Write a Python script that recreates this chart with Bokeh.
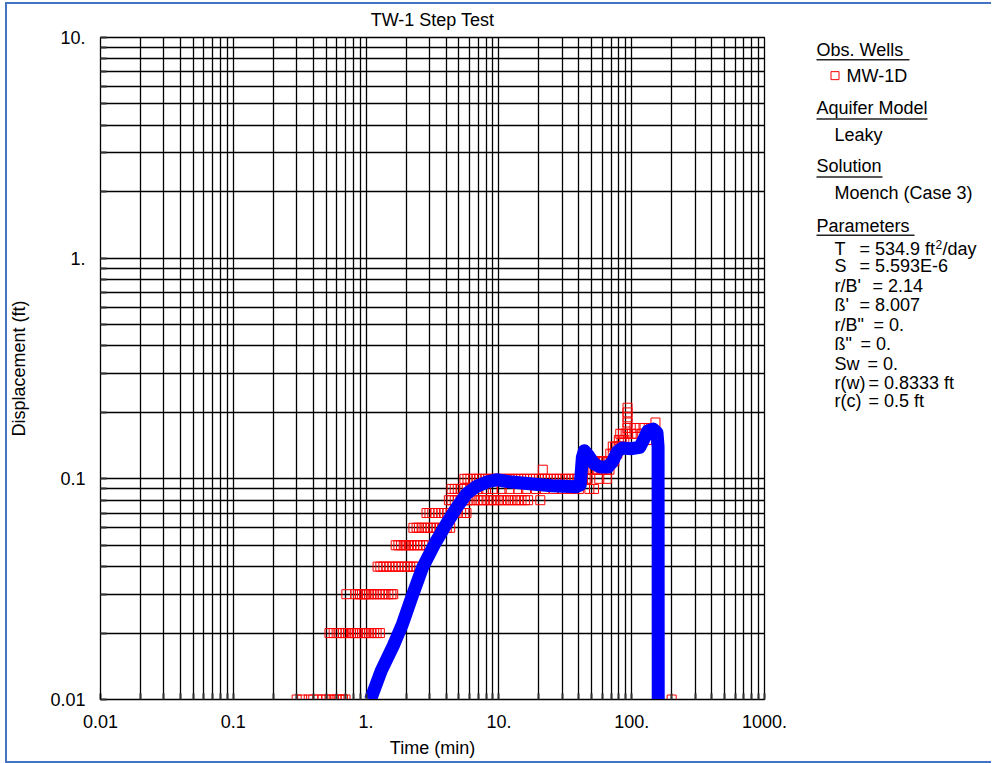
from bokeh.plotting import figure
from bokeh.layouts import row
from bokeh.models import FixedTicker, Range1d, ColumnDataSource
from bokeh.embed import file_html
from bokeh.resources import INLINE
from bokeh.core.properties import value

FONT = "Liberation Sans"

# ---------------- data ----------------
x_major = [0.01, 0.1, 1.0, 10.0, 100.0, 1000.0]
x_tick_labels = ["0.01", "0.1", "1.", "10.", "100.", "1000."]
y_major = [0.01, 0.1, 1.0, 10.0]
y_tick_labels = ["0.01", "0.1", "1.", "10."]

# observed drawdown at MW-1D, grouped by recorded displacement (ft) -> times (min)
t_001 = [0.30, 0.33, 0.37, 0.40, 0.43, 0.47, 0.50, 0.53, 0.57, 0.60, 0.63, 0.67, 0.70, 157.0, 200.0]
t_002 = [0.53, 0.57, 0.60, 0.63, 0.67, 0.70, 0.73, 0.77, 0.80, 0.83, 0.87, 0.90, 0.93, 0.97, 1.00,
         1.05, 1.10, 1.15, 1.20, 1.27]
t_003 = [0.71, 0.83, 0.87, 0.90, 0.93, 0.97, 1.00, 1.05, 1.10, 1.15, 1.20, 1.27, 1.33, 1.40, 1.47,
         1.55, 1.60]
t_004 = [1.22, 1.28, 1.35, 1.42, 1.50, 1.58, 1.67, 1.75, 1.85, 1.95, 2.05, 2.15, 2.28, 2.40]
t_005 = [1.67, 1.75, 1.83, 1.92, 2.00, 2.10, 2.20, 2.30, 2.42, 2.55, 2.70, 2.85]
t_006 = [2.27, 2.40, 2.50, 2.62, 2.75, 2.90, 3.05, 3.20, 3.40, 3.60, 3.80, 4.05, 4.30]
t_007 = [2.85, 3.00, 3.15, 3.30, 3.50, 3.70, 3.90, 4.10, 4.35, 4.60, 4.90, 5.20, 5.50, 5.70]
t_008 = [4.2, 4.4, 4.65, 4.9, 5.2, 5.5, 5.8, 6.1, 6.5, 6.9, 7.3, 7.7, 8.2, 8.7, 9.2, 9.8, 10.4,
         11.0, 11.7, 12.4, 13.2, 14.0, 14.8, 15.7, 16.6, 20.5]
t_009 = [4.4, 4.65, 4.9, 5.2, 5.5, 6.2, 7.0, 8.0, 9.0, 10.5, 12.0, 14.0, 16.0, 19.0, 22.0, 26.0,
         30.0, 35.0, 40.0, 48.0, 52.0]
t_010 = [5.5, 5.8, 6.1, 6.4, 6.8, 7.1, 7.5, 7.9, 8.3, 8.8, 9.2, 9.7, 10.2, 10.8, 11.4, 12.0, 12.6,
         13.3, 14.0, 14.7, 15.5, 16.3, 17.2, 18.1, 19.0, 20.0, 21.0, 22.2, 23.3, 24.6, 25.9, 27.2,
         28.7, 30.2, 31.8, 33.5, 35.2, 37.0, 39.0, 41.0, 43.0, 45.0, 46.5, 57.0, 65.0]
t_011 = [21.4, 44.0, 47.0, 50.0, 53.0, 56.0, 60.0, 64.0, 68.0]
t_012 = [46.0, 49.0, 52.0, 55.0, 58.0, 62.0, 66.0, 70.0, 74.0]
t_013 = [69.0, 72.0, 75.0, 78.0]
t_014 = [72.0, 75.0, 78.0, 81.0, 84.0]
t_015 = [80.0, 84.0, 88.0, 131.0, 136.0]
t_016 = [82.0, 86.0, 90.0, 93.0, 100.0, 110.0, 120.0]
t_017 = [93.0, 105.0, 115.0, 125.0, 140.0]
t_018 = [93.0, 151.0]
t_019 = [93.0]
t_020 = [93.0]
t_021 = [93.0]

obs_levels = [0.01, 0.02, 0.03, 0.04, 0.05, 0.06, 0.07, 0.08, 0.09, 0.10, 0.11,
              0.12, 0.13, 0.14, 0.15, 0.16, 0.17, 0.18, 0.19, 0.20, 0.21]
obs_time_groups = [t_001, t_002, t_003, t_004, t_005, t_006, t_007, t_008, t_009, t_010, t_011,
                   t_012, t_013, t_014, t_015, t_016, t_017, t_018, t_019, t_020, t_021]

# Moench (Case 3) type curve
model_time = [1.08, 1.3, 1.6, 1.88, 2.25, 2.66, 3.3, 4.03, 4.8, 5.7, 6.7, 8.2, 9.6, 12.0, 17.0,
              25.0, 38.0, 41.0, 42.5, 44.0, 47.0, 52.0, 58.0, 66.0, 72.0, 78.0, 85.0, 100.0,
              115.0, 124.0, 132.0, 145.0, 155.0, 158.0, 158.5]
model_disp = [0.0100, 0.0135, 0.0175, 0.022, 0.030, 0.0396, 0.051, 0.0626, 0.074, 0.0855, 0.092,
              0.097, 0.099, 0.097, 0.095, 0.093, 0.092, 0.094, 0.125, 0.134, 0.128, 0.117, 0.113,
              0.113, 0.120, 0.133, 0.138, 0.137, 0.139, 0.152, 0.165, 0.168, 0.162, 0.140, 0.005]

legend_headers = ["Obs. Wells", "Aquifer Model", "Solution", "Parameters"]
legend_items = ["MW-1D", "Leaky", "Moench (Case 3)"]
param_names = ["T", "S", "r/B'", "\u00df'", 'r/B"', '\u00df"', "Sw", "r(w)", "r(c)"]
param_values = ["= 534.9 ft", "= 5.593E-6", "= 2.14", "= 8.007", "= 0.", "= 0.", "= 0.",
                "= 0.8333 ft", "= 0.5 ft"]

# observed position of the canvas origin in the screenshot
X0, Y0 = 1, 0
W1, W2, H = 787, 204, 763

# ---------------- main plot ----------------
obs_t, obs_d = [], []
for lvl, times in zip(obs_levels, obs_time_groups):
    obs_t.extend(times)
    obs_d.extend([lvl] * len(times))
obs_src = ColumnDataSource(dict(t=obs_t, d=obs_d))
model_src = ColumnDataSource(dict(t=model_time, d=model_disp))

BT, BB = 36 - Y0, H - (699 - Y0)
p = figure(width=W1, height=H, x_axis_type="log", y_axis_type="log",
           x_range=Range1d(0.01, 1000), y_range=Range1d(0.01, 10),
           output_backend="svg", toolbar_location=None,
           min_border_left=101 - X0, min_border_right=W1 - (101 - X0) - 664,
           min_border_top=BT, min_border_bottom=BB,
           title="TW-1 Step Test")
p.title.align = "center"
p.title.text_font = FONT
p.title.text_font_size = "18px"
p.title.text_font_style = "normal"
p.title.text_color = "black"
p.title.standoff = 15

x_minor = [m * 10.0 ** e for e in range(-2, 3) for m in range(2, 10)]
y_minor = [m * 10.0 ** e for e in range(-2, 1) for m in range(2, 10)]
p.xaxis.ticker = FixedTicker(ticks=x_major, minor_ticks=x_minor)
p.yaxis.ticker = FixedTicker(ticks=y_major, minor_ticks=y_minor)
p.xaxis.major_label_overrides = {t: l for t, l in zip(x_major, x_tick_labels)}
p.yaxis.major_label_overrides = {t: l for t, l in zip(y_major, y_tick_labels)}

for ax in (p.xaxis, p.yaxis):
    ax.major_label_text_font = FONT
    ax.major_label_text_font_size = "18px"
    ax.major_label_text_color = "black"
    ax.axis_label_text_font = FONT
    ax.axis_label_text_font_size = "18px"
    ax.axis_label_text_font_style = "normal"
    ax.axis_label_text_color = "black"
    ax.axis_line_color = "black"
    ax.major_tick_in = 6
    ax.major_tick_out = 0
    ax.minor_tick_in = 6
    ax.minor_tick_out = 0
    ax.major_tick_line_color = "#333333"
    ax.minor_tick_line_color = "#333333"
    ax.major_tick_line_width = 2
    ax.minor_tick_line_width = 2

p.xaxis.axis_label = "Time (min)"
p.xaxis.major_label_standoff = 15
p.xaxis.axis_label_standoff = 7
p.yaxis.axis_label = "Displacement (ft)"
p.yaxis.major_label_standoff = 15
p.yaxis.axis_label_standoff = 18

p.grid.grid_line_color = "black"
p.grid.grid_line_alpha = 1.0
p.grid.grid_line_width = 1.3
p.grid.minor_grid_line_color = "black"
p.grid.minor_grid_line_alpha = 1.0
p.grid.minor_grid_line_width = 1.3
p.outline_line_color = "black"
p.outline_line_width = 1.3
p.background_fill_color = "white"
p.border_fill_color = None

p.scatter("t", "d", source=obs_src, marker="square", size=9, fill_color=None,
          line_color="#ff0000", line_width=1)
p.line("t", "d", source=model_src, line_color="#0000ff", line_width=13, line_join="round")

# ---------------- side panel (text legend); data units = screen pixels ----------------
leg = figure(width=W2, height=H, x_range=Range1d(X0 + W1, X0 + W1 + W2), y_range=Range1d(699, 36),
             output_backend="svg", toolbar_location=None,
             x_axis_location=None, y_axis_location=None,
             min_border_left=0, min_border_right=0, min_border_top=BT, min_border_bottom=BB)
leg.grid.visible = False
leg.outline_line_color = None
leg.background_fill_color = None
leg.border_fill_color = None

text_kw = dict(text_font=value(FONT), text_font_size="18px", text_color="black",
               text_baseline="middle", text_align="left")

header_x = [817, 817, 817, 817]
header_y = [48.8, 106.7, 165.0, 224.7]
leg.text(x=header_x, y=header_y, text=legend_headers, **text_kw)
underline_y = [58.3, 117.7, 175.7, 234.0]
underline_x1 = [910, 928, 883, 915]
leg.segment(x0=header_x, y0=underline_y, x1=underline_x1, y1=underline_y,
            line_color="#222222", line_width=1.5)

leg.text(x=[847, 835, 835], y=[75.0, 133.3, 191.7], text=legend_items, **text_kw)
leg.scatter(x=[835.5], y=[74.2], marker="square", size=8, fill_color=None,
            line_color="#ff0000", line_width=1)

param_y = [248.0, 265.3, 285.0, 304.3, 324.0, 343.3, 362.6, 381.6, 400.0]
eq_x = [860, 860, 873, 860, 874, 861, 868, 869, 869]
leg.text(x=[835] * len(param_names), y=param_y, text=param_names, **text_kw)
leg.text(x=eq_x, y=param_y, text=param_values, **text_kw)
leg.text(x=[936], y=[param_y[0] - 5], text=["2"], text_font=value(FONT), text_font_size="12px",
         text_color="black", text_baseline="middle", text_align="left")
leg.text(x=[943], y=[param_y[0]], text=["/day"], **text_kw)

# thin blue page frame: inset shadows behind the (transparent) canvas borders
layout = row(p, leg, styles={
    "background-color": "white",
    "box-shadow": ("inset 0px 2px 0px 0px #ffffff, inset 5px 0px 0px 0px #ffffff, "
                   "inset 7px 0px 0px 0px #4472C4, inset 0px 4px 0px 0px #4472C4, "
                   "inset 0px -2px 0px 0px #4472C4"),
})

open("out.html", "w").write(file_html(layout, INLINE))
